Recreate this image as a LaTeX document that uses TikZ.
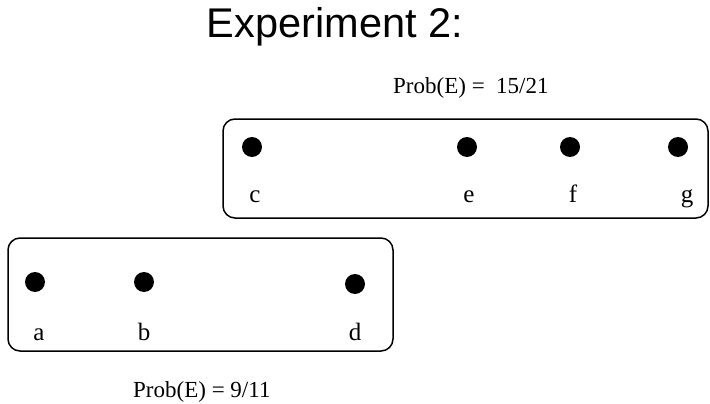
\documentclass[tikz,border=0pt]{standalone}
\usepackage{fontspec}
\setmainfont{Liberation Serif}
\newfontfamily\titlefont{Liberation Sans}
\tikzset{
  setbox/.style={line width=1.5pt,rounded corners=12pt},
  pt/.style={circle,fill=black,inner sep=0pt,minimum size=20pt},
  lbl/.style={anchor=base,inner sep=0pt,font=\fontsize{25}{25}\selectfont},
  prob/.style={anchor=base west,inner sep=0pt,font=\fontsize{23}{23}\selectfont}
}
\begin{document}
\begin{tikzpicture}[x=1pt,y=-1pt]
\useasboundingbox (0,0) rectangle (710,404);
\node[anchor=base,inner sep=0pt,font=\titlefont\fontsize{41.5}{41.5}\selectfont] (title) at (335,38) {Experiment 2:};
% upper set
\draw[setbox] (223,119) rectangle (708,218);
\node[prob] (probup) at (393,93) {Prob(E) =\ \ 15/21};
\node[pt] (c) at (252,147) {};
\node[pt] (e) at (467,147) {};
\node[pt] (f) at (570,147) {};
\node[pt] (g) at (678,147) {};
\node[lbl] (lc) at (255,202) {c};
\node[lbl] (le) at (469,202) {e};
\node[lbl] (lf) at (573,202) {f};
\node[lbl] (lg) at (687,202) {g};
% lower set
\draw[setbox] (8,238) rectangle (393,351);
\node[pt] (a) at (35,282) {};
\node[pt] (b) at (144,282) {};
\node[pt] (d) at (355,284) {};
\node[lbl] (la) at (39,340) {a};
\node[lbl] (lb) at (144,340) {b};
\node[lbl] (ld) at (355,340) {d};
\node[prob] (problow) at (133,397) {Prob(E) = 9/11};
\end{tikzpicture}
\end{document}
